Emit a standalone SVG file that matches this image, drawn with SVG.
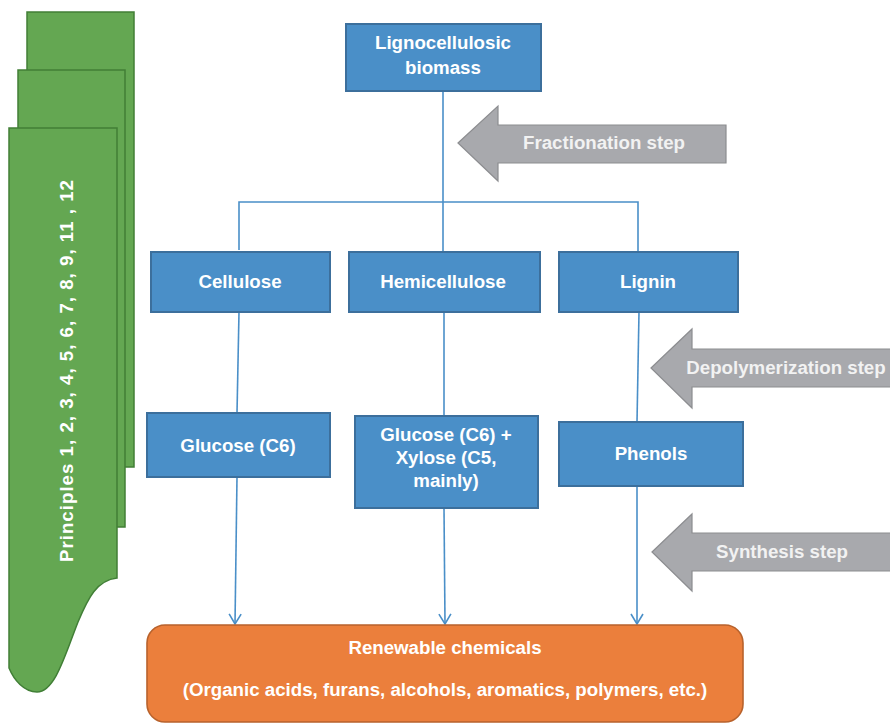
<svg xmlns="http://www.w3.org/2000/svg" width="890" height="724" viewBox="0 0 890 724">
<style>
.t{font-family:"Liberation Sans",Arial,sans-serif;font-weight:bold;font-size:18.7px;fill:#ffffff;text-anchor:middle}
.g{fill:#f2f2f2}
.box{fill:#4a8fc8;stroke:#3c6f9c;stroke-width:2}
.grn{fill:#64a752;stroke:#417f36;stroke-width:1.5}
.arr{fill:#a8a9ad;stroke:#8c8d90;stroke-width:1.2}
.ln{fill:none;stroke:#4a8fc8;stroke-width:1.6}
</style>
<defs>
<marker id="ah" viewBox="-1 -7 12 14" refX="10" refY="0" markerWidth="12" markerHeight="14" markerUnits="userSpaceOnUse" orient="auto">
<path d="M0,-6 L10,0 L0,6" fill="none" stroke="#4a8fc8" stroke-width="1.6"/>
</marker>
</defs>
<g id="principles">
<path class="grn" d="M27,12 H134 V467 H27 Z"/>
<path class="grn" d="M18,70 H125 V527 H18 Z"/>
<path class="grn" d="M9,128 H117 V578 C97,580 88,598 78,622 C65,655 55,692 37,692 C24,692 14,680 9,668 Z"/>
<text class="t" transform="translate(73,371) rotate(-90)" textLength="382" lengthAdjust="spacing">Principles 1, 2, 3, 4, 5, 6, 7, 8, 9, 11 , 12</text>
</g>
<g id="connectors">
<path class="ln" d="M443,91 V252"/>
<path class="ln" d="M239,250 V202 H638 V252"/>
<path class="ln" d="M239,312 L237,413"/>
<path class="ln" d="M444,312 V416"/>
<path class="ln" d="M639,312 L637,422"/>
<path class="ln" d="M237,477 L235,624" marker-end="url(#ah)"/>
<path class="ln" d="M444,508 L445,624" marker-end="url(#ah)"/>
<path class="ln" d="M637,486 V624" marker-end="url(#ah)"/>
</g>
<g id="biomass">
<rect class="box" x="346" y="24" width="195" height="67"/>
<text class="t" x="443" y="49">Lignocellulosic</text>
<text class="t" x="443" y="74">biomass</text>
</g>
<g id="fractionation">
<path class="arr" d="M458,143 L498,106 L498,125 L726,125 L726,163 L498,163 L498,181 Z"/>
<text class="t g" x="604" y="149">Fractionation step</text>
</g>
<g id="cellulose">
<rect class="box" x="151" y="252" width="179" height="60"/>
<text class="t" x="240" y="288">Cellulose</text>
</g>
<g id="hemicellulose">
<rect class="box" x="349" y="252" width="191" height="60"/>
<text class="t" x="443" y="288">Hemicellulose</text>
</g>
<g id="lignin">
<rect class="box" x="559" y="252" width="179" height="60"/>
<text class="t" x="648" y="288">Lignin</text>
</g>
<g id="depolymerization">
<path class="arr" d="M651,368 L692,329 L692,349 L892,349 L892,387 L692,387 L692,408 Z"/>
<text class="t g" x="786" y="374">Depolymerization step</text>
</g>
<g id="glucose">
<rect class="box" x="147" y="413" width="183" height="64"/>
<text class="t" x="238" y="452">Glucose (C6)</text>
</g>
<g id="glucose-xylose">
<rect class="box" x="355" y="416" width="183" height="92"/>
<text class="t" x="446" y="441">Glucose (C6) +</text>
<text class="t" x="446" y="464">Xylose (C5,</text>
<text class="t" x="446" y="487">mainly)</text>
</g>
<g id="phenols">
<rect class="box" x="559" y="422" width="184" height="64"/>
<text class="t" x="651" y="460">Phenols</text>
</g>
<g id="synthesis">
<path class="arr" d="M652,552 L692,514 L692,533 L892,533 L892,571 L692,571 L692,591 Z"/>
<text class="t g" x="782" y="558">Synthesis step</text>
</g>
<g id="renewable">
<rect x="147" y="625" width="596" height="97" rx="18" fill="#eb7f3c" stroke="#b8622c" stroke-width="1.6"/>
<text class="t" x="445" y="654">Renewable chemicals</text>
<text class="t" x="445" y="696">(Organic acids, furans, alcohols, aromatics, polymers, etc.)</text>
</g>
</svg>
